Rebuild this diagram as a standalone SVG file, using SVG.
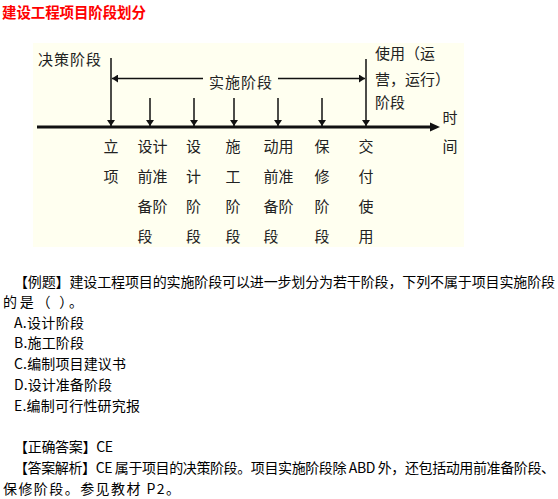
<svg xmlns="http://www.w3.org/2000/svg" width="558" height="499" viewBox="0 0 558 499">
<style>
.title{font-family:"Noto Sans CJK SC",sans-serif;font-size:14.5px;font-weight:bold;fill:#ff0000}
.lbl{font-family:"Noto Sans CJK SC",sans-serif;font-size:15px;fill:#222}
.body{font-family:"Noto Sans CJK SC",sans-serif;font-size:14px;fill:#000}
.ln{stroke:#111;stroke-width:1.5;fill:none}
</style>
<defs>
<marker id="ah" viewBox="0 0 6 8" refX="6" refY="4" markerWidth="6" markerHeight="8" markerUnits="userSpaceOnUse" orient="auto">
<path d="M0,0 L6,4 L0,8 Z" fill="#111"/>
</marker>
</defs>
<rect width="558" height="499" fill="#ffffff"/>
<text class="title" x="2" y="18" textLength="144" lengthAdjust="spacing">建设工程项目阶段划分</text>
<rect id="panel" x="33" y="43" width="431" height="204" fill="#fffff0"/>
<g id="connectors">
<line x1="37" y1="127" x2="432" y2="127" stroke="#111" stroke-width="3"/>
<path d="M430,122.5 L440,127 L430,131.5 Z" fill="#111"/>
<line class="ln" x1="111" y1="58" x2="111" y2="126" marker-end="url(#ah)"/>
<line class="ln" x1="366" y1="59" x2="366" y2="126" marker-end="url(#ah)"/>
<line class="ln" x1="150" y1="98" x2="150" y2="126" marker-end="url(#ah)"/>
<line class="ln" x1="194" y1="98" x2="194" y2="126" marker-end="url(#ah)"/>
<line class="ln" x1="234" y1="98" x2="234" y2="126" marker-end="url(#ah)"/>
<line class="ln" x1="278" y1="98" x2="278" y2="126" marker-end="url(#ah)"/>
<line class="ln" x1="322" y1="98" x2="322" y2="126" marker-end="url(#ah)"/>
<line class="ln" x1="203" y1="78.5" x2="112" y2="78.5" marker-end="url(#ah)"/>
<line class="ln" x1="278" y1="78.5" x2="365" y2="78.5" marker-end="url(#ah)"/>
</g>
<g id="decision"><text class="lbl" x="38" y="65" letter-spacing="1">决策阶段</text></g>
<g id="implementation"><text class="lbl" x="209" y="88" letter-spacing="1">实施阶段</text></g>
<g id="operation">
<text class="lbl" x="375" y="59">使用（运</text>
<text class="lbl" x="375" y="85">营，运行）</text>
<text class="lbl" x="375" y="108">阶段</text>
</g>
<g id="time"><text class="lbl" x="442.5" y="123">时</text><text class="lbl" x="442.5" y="152">间</text></g>
<g id="s1"><text class="lbl" x="103.5" y="152">立</text><text class="lbl" x="103.5" y="182">项</text></g>
<g id="s2"><text class="lbl" x="137.5" y="152">设计</text><text class="lbl" x="137.5" y="182">前准</text><text class="lbl" x="137.5" y="212">备阶</text><text class="lbl" x="137.5" y="242">段</text></g>
<g id="s3"><text class="lbl" x="186" y="152">设</text><text class="lbl" x="186" y="182">计</text><text class="lbl" x="186" y="212">阶</text><text class="lbl" x="186" y="242">段</text></g>
<g id="s4"><text class="lbl" x="225.5" y="152">施</text><text class="lbl" x="225.5" y="182">工</text><text class="lbl" x="225.5" y="212">阶</text><text class="lbl" x="225.5" y="242">段</text></g>
<g id="s5"><text class="lbl" x="263.5" y="152">动用</text><text class="lbl" x="263.5" y="182">前准</text><text class="lbl" x="263.5" y="212">备阶</text><text class="lbl" x="263.5" y="242">段</text></g>
<g id="s6"><text class="lbl" x="314.5" y="152">保</text><text class="lbl" x="314.5" y="182">修</text><text class="lbl" x="314.5" y="212">阶</text><text class="lbl" x="314.5" y="242">段</text></g>
<g id="s7"><text class="lbl" x="358.5" y="152">交</text><text class="lbl" x="358.5" y="182">付</text><text class="lbl" x="358.5" y="212">使</text><text class="lbl" x="358.5" y="242">用</text></g>
<g id="question">
<text class="body" x="14" y="287" textLength="541" lengthAdjust="spacing">【例题】建设工程项目的实施阶段可以进一步划分为若干阶段，下列不属于项目实施阶段</text>
<text class="body" x="3" y="307" textLength="80" lengthAdjust="spacing">的是（ ）。</text>
<text class="body" x="14" y="328" textLength="70" lengthAdjust="spacing">A.设计阶段</text>
<text class="body" x="14" y="348" textLength="70" lengthAdjust="spacing">B.施工阶段</text>
<text class="body" x="14" y="369" textLength="112" lengthAdjust="spacing">C.编制项目建议书</text>
<text class="body" x="14" y="390" textLength="98" lengthAdjust="spacing">D.设计准备阶段</text>
<text class="body" x="14" y="411" textLength="126" lengthAdjust="spacing">E.编制可行性研究报</text>
<text class="body" x="14" y="452" textLength="99" lengthAdjust="spacing">【正确答案】CE</text>
<text class="body" x="14" y="473" textLength="541" lengthAdjust="spacing">【答案解析】CE 属于项目的决策阶段。项目实施阶段除 ABD 外，还包括动用前准备阶段、</text>
<text class="body" x="3" y="494" textLength="177" lengthAdjust="spacing">保修阶段。参见教材 P2。</text>
</g>
</svg>
